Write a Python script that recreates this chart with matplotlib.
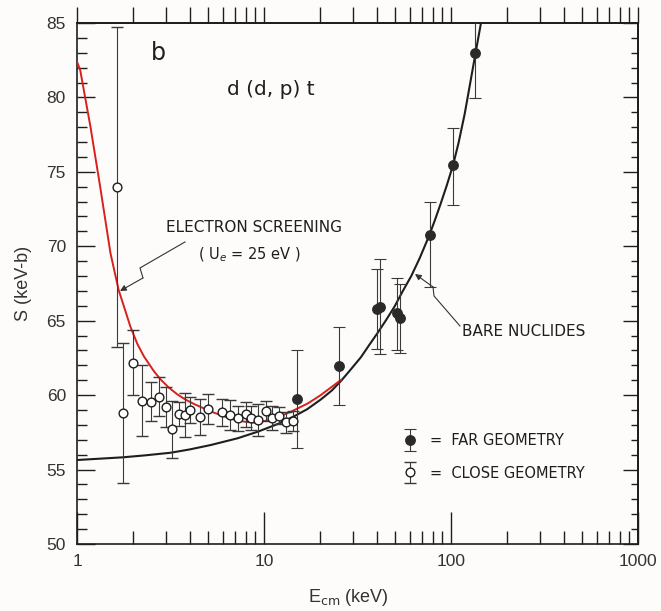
import matplotlib.pyplot as plt
import numpy as np
from matplotlib.container import ErrorbarContainer
from matplotlib.legend_handler import HandlerErrorbar
from matplotlib.ticker import LogLocator, MultipleLocator, NullFormatter

# close geometry (open circles)
close_e = [1.645, 1.76, 2.0, 2.23, 2.5, 2.75, 3.01, 3.24, 3.51, 3.79, 4.0, 4.52,
           5.03, 5.95, 6.55, 7.29, 7.98, 8.48, 9.33, 10.2, 11.0, 12.0, 13.1, 14.3]
close_s = [74.0, 58.78, 62.18, 59.63, 59.56, 59.9, 59.18, 57.7, 58.73, 58.67, 59.0, 58.55,
           59.05, 58.85, 58.65, 58.44, 58.71, 58.44, 58.33, 58.93, 58.44, 58.62, 58.17, 58.26]
close_err = [10.75, 4.7, 2.2, 2.4, 1.3, 1.3, 1.35, 1.9, 0.8, 1.5, 0.9, 1.2,
             1.0, 0.9, 1.0, 0.85, 0.85, 0.8, 1.05, 0.7, 0.8, 0.55, 0.7, 0.7]

# far geometry (filled circles)
far_e = [14.98, 25.3, 40.1, 41.8, 51.4, 53.5, 76.9, 102.6, 135.2]
far_s = [59.74, 61.96, 65.77, 65.94, 65.5, 65.16, 70.76, 75.46, 82.96]
far_lo = [3.3, 2.6, 2.7, 3.2, 2.5, 2.3, 3.5, 2.7, 3.0]
far_hi = [3.3, 2.6, 2.7, 3.2, 2.4, 2.3, 2.2, 2.5, 3.0]

bare_e = [1.0, 1.75, 2.3, 3.17, 4.0, 5.2, 7.22, 9.25, 11.85, 14.6, 17.0, 20.1, 23.0, 25.8,
          29.0, 33.0, 36.0, 40.6, 45.0, 49.9, 55.0, 61.3, 68.0, 76.0, 82.0, 88.0, 95.0,
          102.6, 110.0, 118.4, 126.0, 135.2, 145.6]
bare_s = [55.64, 55.82, 55.95, 56.13, 56.35, 56.65, 57.1, 57.54, 58.06, 58.6, 59.05, 59.7,
          60.3, 60.95, 61.7, 62.55, 63.25, 64.2, 65.05, 65.95, 66.95, 68.0, 69.2, 70.64,
          71.75, 72.85, 74.1, 75.46, 77.0, 78.9, 80.8, 82.96, 85.2]

# electron screening curve, Ue = 25 eV
scr_e = [1.0, 1.04, 1.18, 1.33, 1.51, 1.67, 1.93, 2.1, 2.28, 2.58, 2.8, 3.1, 3.44, 3.8,
         4.23, 5.2, 6.65, 8.0, 8.88, 10.9, 13.96, 17.2, 20.1, 25.8]
scr_s = [82.4, 81.84, 78.03, 74.0, 69.53, 67.06, 64.6, 63.45, 62.6, 61.6, 61.05, 60.5,
         60.05, 59.7, 59.4, 58.9, 58.4, 58.2, 58.15, 58.33, 58.89, 59.45, 60.0, 61.02]

xticks = [1, 10, 100, 1000]
xtick_labels = ['1', '10', '100', '1000']
yticks = [50, 55, 60, 65, 70, 75, 80, 85]

bg = '#fdfcfa'
ink = '#1e1e1e'
red = '#d8201c'

fig = plt.figure(figsize=(6.61, 6.11), dpi=100)
fig.patch.set_facecolor(bg)
ax = fig.add_axes([0.1165, 0.1097, 0.8487, 0.8527])
ax.set_facecolor(bg)

ax.plot(bare_e, bare_s, color=ink, lw=1.5, zorder=2)
ax.plot(scr_e, scr_s, color=red, lw=1.4, zorder=3)

far = ax.errorbar(far_e, far_s, yerr=[far_lo, far_hi], fmt='o', ms=6.8, color='#2a2a2a',
                  ecolor='#3a3a3a', elinewidth=0.8, capsize=4, capthick=0.8, zorder=4)
close = ax.errorbar(close_e, close_s, yerr=close_err, fmt='o', ms=6.3, mfc='white',
                    mec=ink, mew=1.0, ecolor='#3a3a3a', elinewidth=0.8, capsize=4,
                    capthick=0.8, zorder=5)

ax.set_xscale('log')
ax.set_xlim(1, 1000)
ax.set_ylim(50, 85)
ax.set_xticks(xticks)
ax.set_xticklabels(xtick_labels)
ax.xaxis.set_minor_locator(LogLocator(base=10, subs=np.arange(2, 10)))
ax.xaxis.set_minor_formatter(NullFormatter())
ax.set_yticks(yticks)
ax.yaxis.set_minor_locator(MultipleLocator(1))

for s in ax.spines.values():
    s.set_linewidth(1.2)
    s.set_color(ink)

ax.tick_params(which='both', direction='in', top=False, right=False, color=ink,
               labelsize=12.5, labelcolor='#333333')
ax.tick_params(axis='x', which='major', length=23, width=1.0, pad=7)
ax.tick_params(axis='x', which='minor', length=9.5, width=1.0)
ax.tick_params(axis='y', which='major', length=13, width=1.0, pad=8)
ax.tick_params(axis='y', which='minor', length=7, width=1.0)
for lab in ax.get_xticklabels() + ax.get_yticklabels():
    lab.set_family('Liberation Sans')

secx = ax.secondary_xaxis('top')
secx.set_xticks(xticks)
secx.xaxis.set_minor_locator(LogLocator(base=10, subs=np.arange(2, 10)))
secx.xaxis.set_major_formatter(NullFormatter())
secx.xaxis.set_minor_formatter(NullFormatter())
secx.tick_params(which='both', direction='out', length=11.5, width=1.0, color=ink)
secx.spines['top'].set_linewidth(1.2)

secy = ax.secondary_yaxis('right')
secy.set_yticks(yticks)
secy.yaxis.set_minor_locator(MultipleLocator(1))
secy.yaxis.set_major_formatter(NullFormatter())
secy.tick_params(which='major', direction='in', length=11, width=1.0, color=ink)
secy.tick_params(which='minor', direction='in', length=5, width=1.0, color=ink)
secy.spines['right'].set_linewidth(1.2)

ax.set_xlabel(r'E$_{\rm cm}$ (keV)', fontsize=13, family='Liberation Sans', color='#333333')
ax.set_ylabel('S (keV-b)', fontsize=13, family='Liberation Sans', color='#333333')
ax.xaxis.set_label_coords(0.483, -0.083)
ax.yaxis.set_label_coords(-0.08, 0.5)

tk = dict(transform=ax.transAxes, ha='center', va='center', color=ink, family='DejaVu Sans')
ax.text(0.1444, 0.9424, 'b', fontsize=17, **tk)
ax.text(0.3458, 0.8714, 'd (d, p) t', fontsize=14.5, **tk)
ax.text(0.3155, 0.6065, 'ELECTRON SCREENING', fontsize=11, **tk)
ax.text(0.3066, 0.5547, r'( U$_e$ = 25 eV )', fontsize=10.5, **tk)
ax.text(0.7968, 0.4069, 'BARE NUCLIDES', fontsize=11, **tk)

# lightning arrows
el_x = [0.1925, 0.1123, 0.1176]
el_y = [0.5797, 0.5298, 0.5106]
ax.plot(el_x, el_y, color='#333333', lw=0.8, transform=ax.transAxes, zorder=6)
ax.annotate('', xy=(0.0766, 0.4856), xytext=(el_x[-1], el_y[-1]), xycoords='axes fraction',
            arrowprops=dict(arrowstyle='-|>', lw=0.8, color='#333333', mutation_scale=9,
                            shrinkA=0, shrinkB=0), zorder=6)
bn_x = [0.6827, 0.6364, 0.6346]
bn_y = [0.4184, 0.4760, 0.4933]
ax.plot(bn_x, bn_y, color='#333333', lw=0.8, transform=ax.transAxes, zorder=6)
ax.annotate('', xy=(0.6025, 0.5182), xytext=(bn_x[-1], bn_y[-1]), xycoords='axes fraction',
            arrowprops=dict(arrowstyle='-|>', lw=0.8, color='#333333', mutation_scale=9,
                            shrinkA=0, shrinkB=0), zorder=6)

leg = fig.legend([far, close], ['=  FAR GEOMETRY', '=  CLOSE GEOMETRY'],
                 loc='upper left', bbox_to_anchor=(0.611, 0.2913), frameon=False,
                 prop={'family': 'DejaVu Sans', 'size': 10.5}, handlelength=0.8,
                 handletextpad=1.0, labelspacing=1.2, borderpad=0, borderaxespad=0,
                 handler_map={ErrorbarContainer: HandlerErrorbar(xerr_size=0.73)})
for t in leg.get_texts():
    t.set_color(ink)

fig.savefig('out.png', dpi=100, facecolor=bg)
